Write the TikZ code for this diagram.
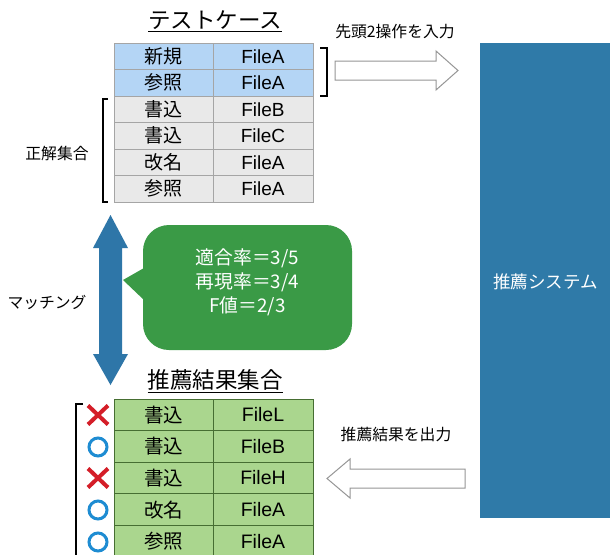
\documentclass[tikz,border=0pt]{standalone}
\usepackage{fontspec}
\setmainfont{Liberation Sans}
\newfontfamily\jp{Noto Sans CJK JP}
\definecolor{hdrblue}{RGB}{180,213,245}
\definecolor{rowgray}{RGB}{233,233,233}
\definecolor{gridgray}{RGB}{165,165,165}
\definecolor{rowgreen}{RGB}{170,214,142}
\definecolor{gridgreen}{RGB}{70,110,50}
\definecolor{sysblue}{RGB}{47,122,168}
\definecolor{arrblue}{RGB}{46,118,168}
\definecolor{callgreen}{RGB}{58,154,70}
\definecolor{xred}{RGB}{212,30,40}
\definecolor{oblue}{RGB}{30,140,210}
\definecolor{hollow}{RGB}{150,150,150}
\tikzset{
  topcell/.style={draw=gridgray, line width=0.8pt, minimum height=26.5pt, inner sep=0pt, font=\fontsize{19}{22}\selectfont},
  botcell/.style={draw=gridgreen, line width=0.8pt, fill=rowgreen, minimum height=31.6pt, inner sep=0pt, font=\fontsize{19.5}{22}\selectfont},
  lcol/.style={minimum width=99pt},
  rcol/.style={minimum width=100pt},
  lbl/.style={font=\jp\fontsize{15.8}{18}\selectfont, inner sep=0pt},
  ttl/.style={font=\jp\fontsize{22.5}{26}\selectfont, inner sep=0pt},
  brk/.style={line width=1.2pt},
  hollowarrow/.style={draw=hollow, line width=1pt, fill=white},
  xmark/.style={draw=xred, line width=4pt},
  omark/.style={draw=oblue, line width=3pt}
}
\begin{document}
\begin{tikzpicture}[x=1pt,y=-1pt]
\clip (0,0) rectangle (610,554);
\useasboundingbox (0,0) rectangle (610,554);
\fill[white] (0,0) rectangle (610,554);

% title top
\node[ttl] (ttop) at (215,21) {\underline{テストケース}};

% top table
\node[topcell,lcol,fill=hdrblue] (a1) at (163.5,56.25) {\jp 新規};
\node[topcell,rcol,fill=hdrblue] (b1) at (263,56.25) {FileA};
\node[topcell,lcol,fill=hdrblue] (a2) at (163.5,82.75) {\jp 参照};
\node[topcell,rcol,fill=hdrblue] (b2) at (263,82.75) {FileA};
\node[topcell,lcol,fill=rowgray] (a3) at (163.5,109.25) {\jp 書込};
\node[topcell,rcol,fill=rowgray] (b3) at (263,109.25) {FileB};
\node[topcell,lcol,fill=rowgray] (a4) at (163.5,135.75) {\jp 書込};
\node[topcell,rcol,fill=rowgray] (b4) at (263,135.75) {FileC};
\node[topcell,lcol,fill=rowgray] (a5) at (163.5,162.25) {\jp 改名};
\node[topcell,rcol,fill=rowgray] (b5) at (263,162.25) {FileA};
\node[topcell,lcol,fill=rowgray] (a6) at (163.5,188.75) {\jp 参照};
\node[topcell,rcol,fill=rowgray] (b6) at (263,188.75) {FileA};

% brackets
\draw[brk] (320,48) -- (327,48) -- (327,96) -- (320,96);
\draw[brk] (108,99) -- (103,99) -- (103,202) -- (108,202);
\node[lbl] (seikai) at (57,153) {正解集合};

% input arrow
\node[lbl] (inlbl) at (395,32) {先頭2操作を入力};
\draw[hollowarrow] (335,61) -- (436,61) -- (436,51) -- (458,70.5) -- (436,90) -- (436,80) -- (335,80) -- cycle;

% system box
\fill[sysblue] (480,43) rectangle (620,518);
\node[font=\jp\fontsize{17.5}{20}\selectfont, inner sep=0pt, text=white] (sys) at (545.5,282) {推薦システム};

% double arrow
\fill[arrblue] (110.5,215) -- (128,248) -- (122,248) -- (122,354) -- (128,354) -- (110.5,385) -- (93,354) -- (99,354) -- (99,248) -- (93,248) -- cycle;
\node[lbl] (match) at (47,302) {マッチング};

% callout
\fill[callgreen, rounded corners=26pt] (143,225) rectangle (352,350);
\fill[callgreen] (144,268) -- (123,280) -- (144,300) -- cycle;
\node[align=center, text=white, font=\jp\fontsize{18.8}{24}\selectfont, inner sep=0pt] (scores) at (247.5,282) {適合率＝3/5\\再現率＝3/4\\F値＝2/3};

% title bottom
\node[ttl] (tbot) at (215,381) {\underline{推薦結果集合}};

% bottom table
\node[botcell,lcol] (c1) at (163.5,414.8) {\jp 書込};
\node[botcell,rcol] (d1) at (263,414.8) {FileL};
\node[botcell,lcol] (c2) at (163.5,446.4) {\jp 書込};
\node[botcell,rcol] (d2) at (263,446.4) {FileB};
\node[botcell,lcol] (c3) at (163.5,478) {\jp 書込};
\node[botcell,rcol] (d3) at (263,478) {FileH};
\node[botcell,lcol] (c4) at (163.5,509.6) {\jp 改名};
\node[botcell,rcol] (d4) at (263,509.6) {FileA};
\node[botcell,lcol] (c5) at (163.5,541.2) {\jp 参照};
\node[botcell,rcol] (d5) at (263,541.2) {FileA};

% marks
\draw[xmark] (88,405.5) -- (108,424.5) (88,424.5) -- (108,405.5);
\draw[omark] (98,447) circle (9pt);
\draw[xmark] (88,468.5) -- (108,487.5) (88,487.5) -- (108,468.5);
\draw[omark] (98,510) circle (9pt);
\draw[omark] (98,542) circle (9pt);

\draw[brk] (83,404) -- (76,404) -- (76,560);

% output arrow
\node[lbl] (outlbl) at (396,435) {推薦結果を出力};
\draw[hollowarrow] (465,469) -- (350,469) -- (350,459) -- (327,478.5) -- (350,498) -- (350,488) -- (465,488) -- cycle;
\end{tikzpicture}
\end{document}
